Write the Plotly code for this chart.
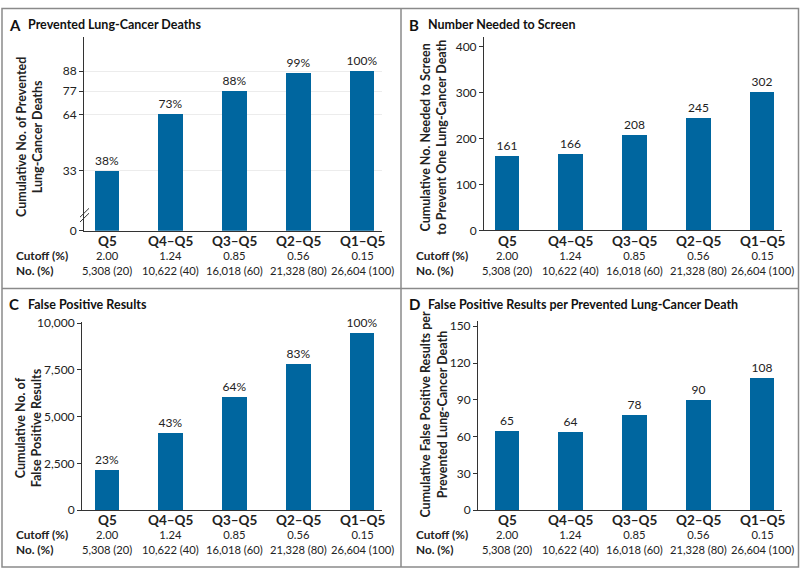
import plotly.graph_objects as go

categories = ["Q5", "Q4\u2013Q5", "Q3\u2013Q5", "Q2\u2013Q5", "Q1\u2013Q5"]
cutoffs = ["2.00", "1.24", "0.85", "0.56", "0.15"]
numbers = ["5,308 (20)", "10,622 (40)", "16,018 (60)", "21,328 (80)", "26,604 (100)"]

prevented_deaths = [33, 64, 77, 87, 88]
prevented_pct = ["38%", "73%", "88%", "99%", "100%"]
nns = [161, 166, 208, 245, 302]
false_pos = [2180, 4130, 6040, 7840, 9490]
false_pos_pct = ["23%", "43%", "64%", "83%", "100%"]
fp_per_death = [65, 64, 78, 90, 108]

W, H = 800, 578
FONT = "Lato"
BAR = "#00669f"
TXT = "#222222"


def px(x):
    return x / W


def py(y):
    return 1 - y / H


fig = go.Figure()

panels = [
    dict(key="", ox=0, axl=84, axr=382, y0=230, ytop=32, ymax=106.7,
         vals=prevented_deaths, text=prevented_pct,
         tickvals=[0, 33, 64, 77, 88], ticktext=["0", "33", "64", "77", "88"],
         letter="A", title="Prevented Lung-Cancer Deaths", ty=19,
         ytitle="Cumulative No. of Prevented<br>Lung-Cancer Deaths", ytx=30, yty=134, grid=True),
    dict(key="2", ox=400, axl=484, axr=782, y0=229.5, ytop=32, ymax=420.8,
         vals=nns, text=[str(v) for v in nns],
         tickvals=[0, 100, 200, 300, 400], ticktext=["0", "100", "200", "300", "400"],
         letter="B", title="Number Needed to Screen", ty=19,
         ytitle="Cumulative No. Needed to Screen<br>to Prevent One Lung-Cancer Death", ytx=434, yty=135, grid=False),
    dict(key="3", ox=0, axl=82, axr=382, y0=515.7, ytop=323, ymax=10070,
         vals=false_pos, text=false_pos_pct,
         tickvals=[0, 2500, 5000, 7500, 10000], ticktext=["0", "2,500", "5,000", "7,500", "10,000"],
         letter="C", title="False Positive Results", ty=305,
         ytitle="Cumulative No. of<br>False Positive Results", ytx=28, yty=432, grid=False),
    dict(key="4", ox=400, axl=478, axr=782, y0=515.7, ytop=322, ymax=154.5,
         vals=fp_per_death, text=[str(v) for v in fp_per_death],
         tickvals=[0, 30, 60, 90, 120, 150], ticktext=["0", "30", "60", "90", "120", "150"],
         letter="D", title="False Positive Results per Prevented Lung-Cancer Death", ty=305,
         ytitle="Cumulative False Positive Results per<br>Prevented Lung-Cancer Death", ytx=434, yty=418, grid=False),
]

C0 = 107.0
SP = 63.75
annotations = []
shapes = []

for p in panels:
    k = p["key"]
    c0 = C0 + p["ox"]
    xr = [(p["axl"] - c0) / SP, (p["axr"] - c0) / SP]
    fig.add_trace(go.Bar(
        x=list(range(len(categories))), y=p["vals"], text=p["text"],
        textposition="outside", cliponaxis=False, constraintext="none",
        textfont=dict(family=FONT, size=12, color=TXT),
        marker=dict(color=BAR, line=dict(width=0)),
        width=0.39, xaxis="x" + k, yaxis="y" + k, showlegend=False,
        hoverinfo="skip",
    ))
    xa = dict(domain=[px(p["axl"]), px(p["axr"])], range=xr, showticklabels=False,
              showgrid=False, zeroline=False, showline=True, linecolor="#333333",
              linewidth=1, ticks="", anchor="y" + k, fixedrange=True)
    ya = dict(domain=[py(p["y0"]), py(p["ytop"])], range=[0, p["ymax"]],
              tickvals=p["tickvals"], ticktext=p["ticktext"], ticks="outside",
              ticklen=4, tickcolor="#333333", tickwidth=1,
              tickfont=dict(family=FONT, size=12, color=TXT),
              showline=True, linecolor="#333333", linewidth=1, zeroline=False,
              showgrid=p["grid"], gridcolor="#ececec", gridwidth=1,
              anchor="x" + k, fixedrange=True)
    fig.update_layout(**{"xaxis" + k: xa, "yaxis" + k: ya})

    xref = "x" + k
    for i, cat in enumerate(categories):
        annotations.append(dict(x=i, y=py(p["y0"] + 10.5), xref=xref, yref="paper",
                                text="<b>" + cat + "</b>", showarrow=False,
                                font=dict(family=FONT, size=13.5, color=TXT),
                                xanchor="center", yanchor="middle"))
        annotations.append(dict(x=i, y=py(p["y0"] + 33), xref=xref, yref="paper",
                                text=cutoffs[i] + "<br>" + numbers[i], showarrow=False,
                                font=dict(family=FONT, size=11.2, color=TXT),
                                xanchor="center", yanchor="middle", align="center"))
    annotations.append(dict(x=px(p["ox"] + 14), y=py(p["y0"] + 33), xref="paper", yref="paper",
                            text="<b>Cutoff (%)</b><br><b>No. (%)</b>", showarrow=False,
                            font=dict(family=FONT, size=11.8, color=TXT),
                            xanchor="left", yanchor="middle", align="left"))
    ty = p["ty"]
    annotations.append(dict(x=px(p["ox"] + 7), y=py(ty), xref="paper", yref="paper",
                            text="<b>" + p["letter"] + "</b>", showarrow=False,
                            font=dict(family=FONT, size=15, color="#111111"),
                            xanchor="left", yanchor="middle"))
    annotations.append(dict(x=px(p["ox"] + 26), y=py(ty), xref="paper", yref="paper",
                            text="<b>" + p["title"] + "</b>", showarrow=False,
                            font=dict(family=FONT, size=12.5, color="#111111"),
                            xanchor="left", yanchor="middle"))
    annotations.append(dict(x=px(p["ytx"]), y=py(p["yty"]), xref="paper", yref="paper",
                            text="<b>" + p["ytitle"] + "</b>", showarrow=False,
                            textangle=-90,
                            font=dict(family=FONT, size=12.5, color=TXT),
                            xanchor="center", yanchor="middle"))

for dy in (0, 5):
    shapes.append(dict(type="line", xref="paper", yref="paper",
                       x0=px(80), y0=py(221 - dy), x1=px(89), y1=py(212 - dy),
                       line=dict(color="#333333", width=1)))
shapes.append(dict(type="rect", xref="paper", yref="paper",
                   x0=px(2), y0=py(574), x1=px(798.5), y1=py(2.5),
                   line=dict(color="#8a8a8a", width=1.5)))
shapes.append(dict(type="line", xref="paper", yref="paper",
                   x0=px(401), y0=py(2.5), x1=px(401), y1=py(574),
                   line=dict(color="#8a8a8a", width=1.5)))
shapes.append(dict(type="line", xref="paper", yref="paper",
                   x0=px(2), y0=py(289), x1=px(798.5), y1=py(289),
                   line=dict(color="#8a8a8a", width=1.5)))

fig.update_layout(
    width=W, height=H, margin=dict(l=0, r=0, t=0, b=0),
    paper_bgcolor="white", plot_bgcolor="white",
    font=dict(family=FONT, size=12, color=TXT),
    annotations=annotations, shapes=shapes, bargap=0,
)

fig.write_html("out.html", config={"displayModeBar": False},
               post_script="document.body.style.margin='0px';")
